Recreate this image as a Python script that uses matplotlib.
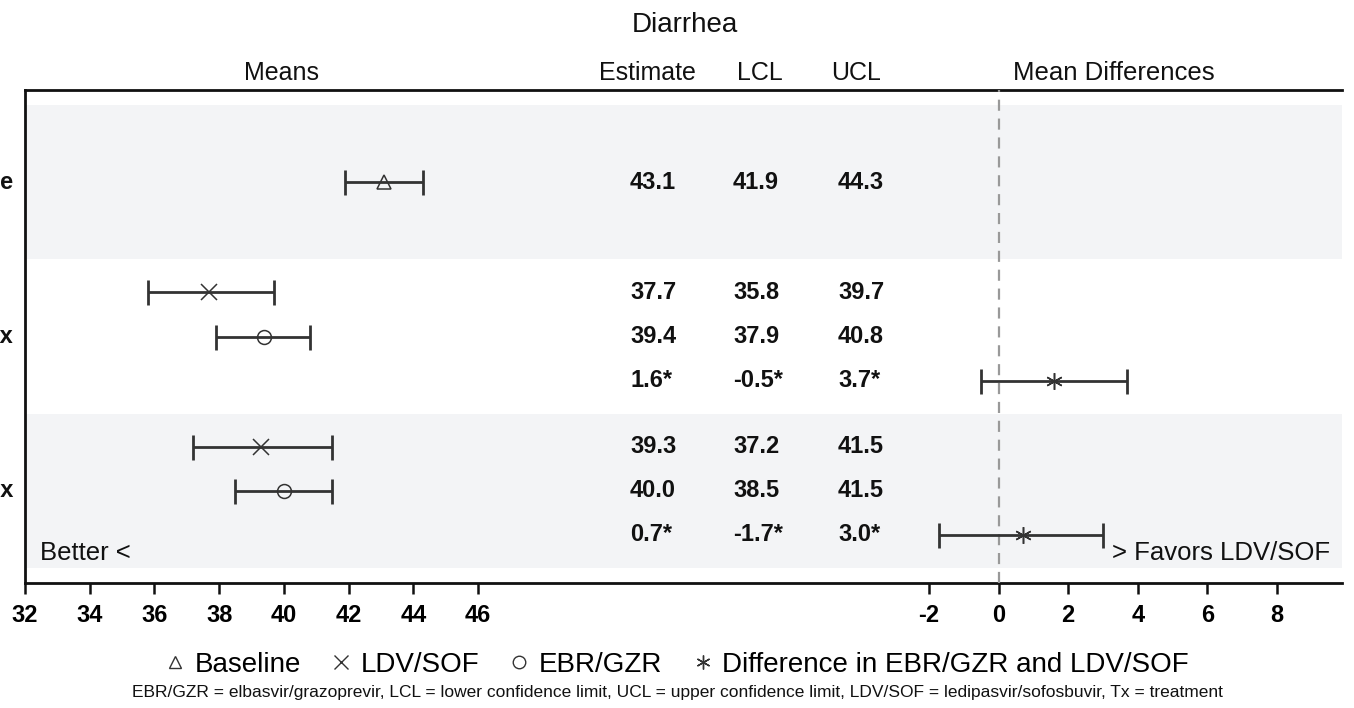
import matplotlib
matplotlib.use("Agg")
import matplotlib.pyplot as plt
from matplotlib.lines import Line2D
from matplotlib.transforms import blended_transform_factory
import numpy as np

plt.rcParams["font.family"] = ["Liberation Sans", "DejaVu Sans"]

# ─── data ───────────────────────────────────────────────────────────────────
groups = ["Baseline", "End of Tx", "Post Tx"]

base_est, base_lcl, base_ucl = 43.1, 41.9, 44.3

ldv_est = [37.7, 39.3]
ldv_lcl = [35.8, 37.2]
ldv_ucl = [39.7, 41.5]

ebr_est = [39.4, 40.0]
ebr_lcl = [37.9, 38.5]
ebr_ucl = [40.8, 41.5]

diff_est = [1.6, 0.7]
diff_lcl = [-0.5, -1.7]
diff_ucl = [3.7, 3.0]

means_ticks = [32, 34, 36, 38, 40, 42, 44, 46]
diff_ticks = [-2, 0, 2, 4, 6, 8]

# ─── layout helpers ─────────────────────────────────────────────────────────
W, H = 1354, 708
def fx(px):
    return px / W
def fy(py):
    return 1 - py / H

GAP, BAND = 0.35, 3.5
Y_MAX = 2 * GAP + 3 * BAND
centers = [GAP + BAND * k + BAND / 2 for k in range(3)]

INK = "#333333"
BAND_COLOR = "#f3f4f6"
STAR = (6, 2, 0)

fig = plt.figure(figsize=(W / 100, H / 100), dpi=100)

rect_y = fy(583)
rect_h = fy(90) - fy(583)

# background frame with bands
frame = fig.add_axes([fx(25), rect_y, fx(1342) - fx(25), rect_h])
frame.set_xlim(0, 1)
frame.set_ylim(Y_MAX, 0)
for k in (0, 2):
    frame.axhspan(GAP + BAND * k, GAP + BAND * (k + 1), color=BAND_COLOR, lw=0)
frame.spines["right"].set_visible(False)
for s in ("left", "top", "bottom"):
    frame.spines[s].set_linewidth(2)
    frame.spines[s].set_color("#111111")
frame.set_xticks([])
frame.set_yticks([])

def data_axes(px0, px1, xlim, ticks):
    ax = fig.add_axes([fx(px0), rect_y, fx(px1) - fx(px0), rect_h])
    ax.set_facecolor("none")
    ax.set_xlim(*xlim)
    ax.set_ylim(Y_MAX, 0)
    for s in ax.spines.values():
        s.set_visible(False)
    ax.set_yticks([])
    ax.set_xticks(ticks)
    ax.set_xticklabels([str(t) for t in ticks], fontweight="bold", fontsize=17)
    ax.tick_params(axis="x", direction="out", length=8, width=1.8,
                   color="#111111", pad=7)
    return ax

px_per_mean = (478 - 25) / 14
ax_m = data_axes(25, 560, (32, 32 + (560 - 25) / px_per_mean), means_ticks)

px_per_diff = (1277 - 929) / 10
ax_d = data_axes(880, 1342,
                 (-2 - (929 - 880) / px_per_diff, 8 + (1342 - 1277) / px_per_diff),
                 diff_ticks)
ax_d.axvline(0, color="#999999", lw=1.6, linestyle=(0, (5, 3.5)), zorder=1)

eb_kw = dict(fmt="none", ecolor=INK, elinewidth=2, capsize=9, capthick=2, zorder=3)
mk_kw = dict(linestyle="none", mfc="none", mec=INK, mew=1.1, zorder=4)

def ci(ax, est, lo, hi, y, marker, ms):
    ax.errorbar([est], [y], xerr=[[est - lo], [hi - est]], **eb_kw)
    ax.plot([est], [y], marker=marker, ms=ms, **mk_kw)

# means panel
ci(ax_m, base_est, base_lcl, base_ucl, centers[0], "^", 10)
for i in range(2):
    c = centers[i + 1]
    ci(ax_m, ldv_est[i], ldv_lcl[i], ldv_ucl[i], c - 1, "x", 11)
    ci(ax_m, ebr_est[i], ebr_lcl[i], ebr_ucl[i], c, "o", 10)
    ci(ax_d, diff_est[i], diff_lcl[i], diff_ucl[i], c + 1, STAR, 12)

# table columns
tr = blended_transform_factory(fig.transFigure, frame.transData)
col_x = [fx(630), fx(733), fx(838)]
num_kw = dict(transform=tr, fontsize=17, fontweight="bold", va="center",
              ha="left", color="#111111")

def put_row(y, vals, star=False):
    for x, v in zip(col_x, vals):
        fig.text(x, y, f"{v:.1f}" + ("*" if star else ""), **num_kw)

put_row(centers[0], [base_est, base_lcl, base_ucl])
for i in range(2):
    c = centers[i + 1]
    put_row(c - 1, [ldv_est[i], ldv_lcl[i], ldv_ucl[i]])
    put_row(c, [ebr_est[i], ebr_lcl[i], ebr_ucl[i]])
    put_row(c + 1, [diff_est[i], diff_lcl[i], diff_ucl[i]], star=True)

# group labels (cut off at the left edge, as in the source)
for g, c in zip(groups, centers):
    fig.text(fx(13), c, g, transform=tr, ha="right", va="center",
             fontsize=17, fontweight="bold", color="#111111")

# headers
hdr_kw = dict(fontsize=18, ha="center", va="center", color="#111111")
fig.text(fx(685), fy(25), "Diarrhea", fontsize=20, ha="center", va="center",
         color="#111111")
fig.text(fx(281), fy(73), "Means", **hdr_kw)
fig.text(fx(647), fy(73), "Estimate", **hdr_kw)
fig.text(fx(760), fy(73), "LCL", **hdr_kw)
fig.text(fx(856), fy(73), "UCL", **hdr_kw)
fig.text(fx(1114), fy(73), "Mean Differences", fontsize=18.5, ha="center",
         va="center", color="#111111")

fig.text(fx(40), fy(553), "Better <", fontsize=18.5, ha="left", va="center",
         color="#111111")
fig.text(fx(1330), fy(553), "> Favors LDV/SOF", fontsize=18.5, ha="right",
         va="center", color="#111111")

# legend
mk = dict(color=INK, mfc="none", mec=INK, linestyle="none", mew=1)
handles = [
    Line2D([], [], marker="^", ms=9, label="Baseline", **mk),
    Line2D([], [], marker="x", ms=10, label="LDV/SOF", **mk),
    Line2D([], [], marker="o", ms=9, label="EBR/GZR", **mk),
    Line2D([], [], marker=STAR, ms=10, label="Difference in EBR/GZR and LDV/SOF", **mk),
]
fig.legend(handles=handles, loc="center", bbox_to_anchor=(fx(677), fy(665)),
           ncol=4, frameon=False, fontsize=20, handlelength=0.7,
           handletextpad=0.35, columnspacing=1.1)

fig.text(fx(677), fy(692),
         "EBR/GZR = elbasvir/grazoprevir, LCL = lower confidence limit, "
         "UCL = upper confidence limit, LDV/SOF = ledipasvir/sofosbuvir, "
         "Tx = treatment",
         fontsize=12.5, ha="center", va="center", color="#111111")

fig.savefig("out.png", dpi=100)
